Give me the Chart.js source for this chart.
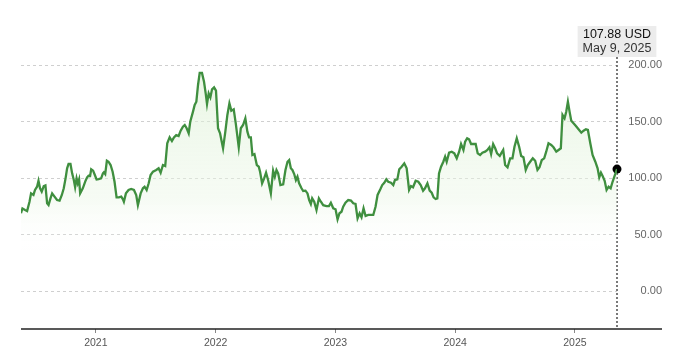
<!DOCTYPE html>
<html>
<head>
<meta charset="utf-8">
<script src="https://cdn.jsdelivr.net/npm/chart.js@4"></script>
<style>
  body { margin: 0; background: #fff; }
  #wrap { width: 680px; height: 362px; }
</style>
</head>
<body>
<div id="wrap"><canvas id="myChart"></canvas></div>
<script>
// dates as fractional years
const years = [
  2020.375, 2020.387, 2020.409, 2020.426, 2020.446, 2020.459, 2020.479, 2020.492, 2020.509, 2020.521,
  2020.534, 2020.548, 2020.565, 2020.579, 2020.593, 2020.605, 2020.621, 2020.635, 2020.655, 2020.676,
  2020.697, 2020.716, 2020.732, 2020.747, 2020.760, 2020.772, 2020.788, 2020.802, 2020.816, 2020.827,
  2020.839, 2020.849, 2020.860, 2020.869, 2020.891, 2020.914, 2020.927, 2020.939, 2020.952, 2020.961,
  2020.977, 2020.989, 2021.006, 2021.023, 2021.044, 2021.059, 2021.067, 2021.078, 2021.092, 2021.106,
  2021.123, 2021.140, 2021.156, 2021.173, 2021.192, 2021.212, 2021.226, 2021.234, 2021.251, 2021.273,
  2021.295, 2021.318, 2021.337, 2021.351, 2021.374, 2021.393, 2021.407, 2021.424, 2021.441, 2021.457,
  2021.477, 2021.504, 2021.524, 2021.541, 2021.560, 2021.579, 2021.596, 2021.616, 2021.635, 2021.652,
  2021.671, 2021.691, 2021.708, 2021.727, 2021.742, 2021.758, 2021.775, 2021.788, 2021.811, 2021.825,
  2021.839, 2021.853, 2021.867, 2021.886, 2021.903, 2021.917, 2021.928, 2021.942, 2021.956, 2021.970,
  2021.987, 2022.003, 2022.020, 2022.037, 2022.048, 2022.062, 2022.081, 2022.098, 2022.115, 2022.131,
  2022.151, 2022.168, 2022.193, 2022.210, 2022.229, 2022.248, 2022.265, 2022.279, 2022.294, 2022.307,
  2022.324, 2022.344, 2022.360, 2022.371, 2022.388, 2022.405, 2022.421, 2022.438, 2022.461, 2022.480,
  2022.494, 2022.508, 2022.522, 2022.541, 2022.564, 2022.583, 2022.600, 2022.614, 2022.628, 2022.641,
  2022.656, 2022.670, 2022.683, 2022.697, 2022.717, 2022.731, 2022.750, 2022.767, 2022.781, 2022.795,
  2022.806, 2022.823, 2022.842, 2022.862, 2022.879, 2022.898, 2022.926, 2022.946, 2022.962, 2022.982,
  2023.001, 2023.018, 2023.034, 2023.051, 2023.065, 2023.084, 2023.107, 2023.130, 2023.149, 2023.168,
  2023.185, 2023.202, 2023.218, 2023.235, 2023.252, 2023.274, 2023.297, 2023.316, 2023.335, 2023.352,
  2023.375, 2023.391, 2023.408, 2023.425, 2023.441, 2023.464, 2023.483, 2023.497, 2023.517, 2023.533,
  2023.553, 2023.575, 2023.595, 2023.615, 2023.631, 2023.648, 2023.670, 2023.692, 2023.712, 2023.732,
  2023.748, 2023.768, 2023.787, 2023.804, 2023.820, 2023.837, 2023.851, 2023.865, 2023.882, 2023.901,
  2023.916, 2023.929, 2023.949, 2023.971, 2023.993, 2024.013, 2024.033, 2024.049, 2024.069, 2024.083,
  2024.100, 2024.116, 2024.133, 2024.152, 2024.171, 2024.188, 2024.208, 2024.227, 2024.250, 2024.269,
  2024.286, 2024.300, 2024.317, 2024.334, 2024.350, 2024.372, 2024.384, 2024.401, 2024.417, 2024.437,
  2024.459, 2024.478, 2024.495, 2024.514, 2024.534, 2024.551, 2024.570, 2024.589, 2024.606, 2024.626,
  2024.648, 2024.668, 2024.687, 2024.704, 2024.723, 2024.743, 2024.760, 2024.779, 2024.802, 2024.821,
  2024.844, 2024.863, 2024.882, 2024.896, 2024.913, 2024.927, 2024.941, 2024.955, 2024.969, 2024.988,
  2025.008, 2025.030, 2025.053, 2025.072, 2025.091, 2025.108, 2025.128, 2025.147, 2025.170, 2025.189,
  2025.203, 2025.217, 2025.231, 2025.248, 2025.264, 2025.281, 2025.298, 2025.314, 2025.331, 2025.351
];

// price in USD
const prices = [
  68.8, 73.0, 71.7, 70.8, 79.0, 86.4, 85.0, 89.4, 92.3, 97.6,
  90.9, 87.9, 92.9, 93.5, 77.6, 76.0, 82.0, 86.4, 83.5, 80.5,
  80.0, 85.0, 90.9, 99.7, 108.6, 112.4, 112.4, 104.1, 98.2, 91.8,
  99.7, 95.3, 98.8, 86.4, 90.9, 97.6, 100.6, 102.0, 101.8, 107.7,
  106.5, 103.3, 98.8, 99.1, 99.7, 104.1, 105.0, 103.5, 115.3, 114.4,
  111.5, 105.6, 96.7, 82.9, 82.9, 83.5, 81.2, 79.0, 86.4, 89.4,
  90.3, 89.4, 85.0, 76.0, 86.4, 90.9, 92.3, 89.4, 95.3, 102.7,
  105.6, 107.1, 108.6, 104.7, 111.5, 110.6, 130.7, 136.0, 132.7, 136.0,
  138.0, 137.2, 141.9, 145.4, 146.9, 144.0, 139.6, 149.8, 158.7, 164.6,
  167.5, 182.3, 193.0, 193.0, 185.2, 174.9, 165.5, 174.9, 171.4, 178.5,
  180.2, 177.3, 144.0, 139.6, 133.6, 126.3, 141.0, 155.8, 166.1, 159.6,
  160.8, 148.4, 127.2, 144.0, 146.9, 152.8, 141.0, 136.0, 136.0, 120.4,
  121.2, 111.5, 110.0, 105.6, 95.3, 99.7, 104.7, 98.2, 86.4, 106.5,
  101.2, 107.1, 104.1, 93.8, 94.4, 107.1, 114.4, 115.9, 108.6, 107.1,
  103.5, 98.2, 101.2, 95.3, 90.9, 88.5, 88.8, 86.4, 80.5, 77.0,
  82.0, 79.0, 71.7, 82.0, 79.0, 76.0, 75.2, 75.2, 78.1, 73.2,
  72.3, 63.4, 68.8, 70.2, 74.6, 78.1, 80.5, 80.0, 77.6, 77.0,
  64.3, 68.8, 65.2, 73.2, 66.4, 67.3, 67.3, 67.3, 74.6, 85.0,
  90.0, 93.8, 95.8, 98.8, 96.7, 95.8, 93.8, 98.2, 98.8, 107.7,
  110.0, 113.0, 108.6, 89.4, 92.9, 91.8, 97.6, 96.7, 93.8, 88.8,
  90.9, 95.3, 88.8, 87.0, 82.9, 81.4, 82.0, 104.1, 110.0, 114.4,
  118.9, 114.4, 122.4, 123.3, 121.8, 117.4, 123.3, 130.1, 124.8, 132.1,
  135.1, 134.2, 130.1, 130.1, 130.1, 121.8, 120.4, 122.4, 123.3, 124.8,
  127.2, 121.2, 130.1, 126.3, 121.8, 119.5, 121.8, 124.8, 111.5, 109.5,
  117.4, 117.4, 127.7, 135.1, 127.7, 119.5, 118.3, 107.1, 111.5, 114.4,
  117.4, 115.3, 107.1, 109.5, 115.9, 117.4, 123.3, 130.7, 129.2, 127.2,
  123.3, 124.8, 126.3, 155.8, 152.8, 158.7, 167.5, 158.7, 150.7, 148.4,
  146.0, 143.1, 140.1, 141.9, 143.1, 142.5, 130.7, 120.4, 114.4, 108.6,
  100.6, 104.7, 101.8, 97.6, 89.4, 92.3, 90.9, 96.7, 101.8, 107.88
];

const yearTicks = [2021, 2022, 2023, 2024, 2025];
const priceTicks = [0, 50, 100, 150, 200];
const lastPriceText = "107.88 USD";
const lastDateText = "May 9, 2025";

const points = years.map((y, i) => ({ x: y, y: prices[i] }));
const last = points[points.length - 1];
const FONT = "'Liberation Sans', Arial, sans-serif";

// dotted marker line, base axis line and the price box
const markerPlugin = {
  id: "marker",
  beforeDatasetsDraw(chart) {
    const ctx = chart.ctx;
    const x = chart.scales.x.getPixelForValue(last.x);
    ctx.save();
    ctx.strokeStyle = "#222";
    ctx.lineWidth = 1.2;
    ctx.setLineDash([2, 2]);
    ctx.beginPath();
    ctx.moveTo(x, 57);
    ctx.lineTo(x, chart.chartArea.bottom);
    ctx.stroke();
    ctx.restore();
  },
  afterDraw(chart) {
    const ctx = chart.ctx;
    const area = chart.chartArea;
    ctx.save();
    ctx.strokeStyle = "#222";
    ctx.lineWidth = 1.5;
    ctx.beginPath();
    ctx.moveTo(area.left, area.bottom);
    ctx.lineTo(chart.width - 18, area.bottom);
    ctx.stroke();

    const x = chart.scales.x.getPixelForValue(last.x);
    ctx.font = "12.5px " + FONT;
    const w = Math.max(ctx.measureText(lastPriceText).width, ctx.measureText(lastDateText).width) + 10;
    ctx.fillStyle = "#ececec";
    ctx.fillRect(x - w / 2, 26, w, 31);
    ctx.fillStyle = "#111";
    ctx.textAlign = "center";
    ctx.textBaseline = "middle";
    ctx.fillText(lastPriceText, x, 35);
    ctx.fillStyle = "#333";
    ctx.fillText(lastDateText, x, 49);
    ctx.restore();
  }
};

const ctx = document.getElementById("myChart").getContext("2d");
const myChart = new Chart(ctx, {
  type: "line",
  data: {
    datasets: [
      {
        data: points,
        borderColor: "#3f8f3f",
        borderWidth: 2.3,
        pointRadius: 0,
        tension: 0,
        fill: "start",
        backgroundColor: (c) => {
          const a = c.chart.chartArea;
          if (!a) return "rgba(0,0,0,0)";
          const g = c.chart.ctx.createLinearGradient(0, a.top, 0, a.bottom);
          g.addColorStop(0, "rgba(214,238,204,0.6)");
          g.addColorStop(0.55, "rgba(236,247,232,0.45)");
          g.addColorStop(0.74, "rgba(255,255,255,0)");
          return g;
        },
      },
      {
        data: [last],
        pointRadius: 4.5,
        pointBackgroundColor: "#000",
        pointBorderWidth: 0,
        showLine: false,
        clip: false,
      },
    ],
  },
  options: {
    responsive: true,
    maintainAspectRatio: false,
    animation: false,
    devicePixelRatio: 1,
    layout: { padding: { left: 21, right: 18, top: 42.4, bottom: 0 } },
    plugins: { legend: { display: false }, tooltip: { enabled: false } },
    scales: {
      x: {
        type: "linear",
        min: years[0],
        max: years[years.length - 1],
        afterBuildTicks: (s) => { s.ticks = yearTicks.map((v) => ({ value: v })); },
        afterFit: (s) => { s.height = 33; },
        grid: { drawOnChartArea: false, drawTicks: true, tickLength: 4, color: "#888" },
        border: { display: false },
        ticks: {
          padding: 4,
          color: "#555",
          font: { family: FONT, size: 10.5 },
          maxRotation: 0,
          callback: (v) => String(v),
        },
      },
      y: {
        position: "right",
        min: -33.6,
        max: 220,
        afterBuildTicks: (s) => { s.ticks = priceTicks.map((v) => ({ value: v })); },
        afterFit: (s) => { s.width = 45; },
        grid: { color: "#cfcfcf", drawTicks: false },
        border: { display: false, dash: [3, 3] },
        ticks: {
          crossAlign: "far",
          padding: 0,
          color: "#666",
          font: { family: FONT, size: 11 },
          callback: (v) => Number(v).toFixed(2),
        },
      },
    },
  },
  plugins: [markerPlugin],
});
</script>
</body>
</html>
